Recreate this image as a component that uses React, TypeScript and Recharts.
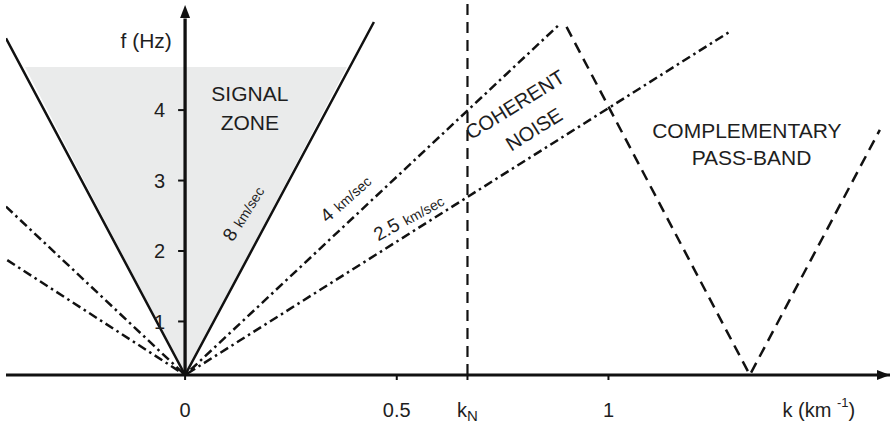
import { ComposedChart, XAxis, YAxis, Line, Area, ReferenceLine, ReferenceDot } from 'recharts';

const FONT = '"Liberation Sans", Arial, Helvetica, sans-serif';
const INK = '#111';
const TEXT = '#1e1e1e';

// axis crossing (origin of all velocity lines) and ranges
const f0 = 0.24;
const kRange = [-0.423, 1.665];
const fRange = [0.24, 5.52];

const kTicks = [0, 0.5, 0.667, 1];
const kTickLabels = ['0', '0.5', 'kN', '1'];
const fTicks = [1, 2, 3, 4];

// shaded signal zone between the 8 km/sec lines, [low, high]
const signalZone = [
  { k: -0.378, f: [4.61, 4.61] },
  { k: 0, f: [f0, 4.61] },
  { k: 0.382, f: [4.61, 4.61] },
];

const vel8 = [
  { k: -0.423, f: 5.02 },
  { k: 0, f: f0 },
  { k: 0.446, f: 5.25 },
];
const vel4 = [
  { k: -0.423, f: 2.63 },
  { k: 0, f: f0 },
  { k: 0.885, f: 5.22 },
];
const vel25 = [
  { k: -0.42, f: 1.87 },
  { k: 0, f: f0 },
  { k: 1.291, f: 5.13 },
];
const aliased = [
  { k: 0.901, f: 5.18 },
  { k: 1.334, f: f0 },
  { k: 1.641, f: 3.72 },
];
const nyquist = [
  { k: 0.667, f: f0 },
  { k: 0.667, f: 5.52 },
];

const zoneLabels = [
  { k: -0.092, f: 4.99, text: 'f (Hz)', angle: 0 },
  { k: 0.153, f: 4.23, text: 'SIGNAL', angle: 0 },
  { k: 0.153, f: 3.82, text: 'ZONE', angle: 0 },
  { k: 0.779, f: 4.08, text: 'COHERENT', angle: -32 },
  { k: 0.824, f: 3.73, text: 'NOISE', angle: -32 },
  { k: 1.327, f: 3.71, text: 'COMPLEMENTARY', angle: 0 },
  { k: 1.338, f: 3.33, text: 'PASS-BAND', angle: 0 },
];

const velLabels = [
  { k: 0.139, f: 2.53, v: '8', angle: -58 },
  { k: 0.38, f: 2.74, v: '4', angle: -42 },
  { k: 0.529, f: 2.47, v: '2.5', angle: -29 },
];

const KTick = (props: any) => {
  const { x, y, payload, index } = props;
  const label = kTickLabels[index] ?? String(payload.value);
  if (label === 'kN') {
    return (
      <text x={x} y={y} textAnchor="middle" fontFamily={FONT} fontSize={20} fill={TEXT}>
        k<tspan fontSize={15} dy={4}>N</tspan>
      </text>
    );
  }
  return (
    <text x={x} y={y} textAnchor="middle" fontFamily={FONT} fontSize={20} fill={TEXT}>
      {label}
    </text>
  );
};

const upArrow = (p: any) => (
  <path d={`M${p.cx},${p.cy} L${p.cx - 5},${p.cy + 13} L${p.cx + 5},${p.cy + 13} Z`} fill={INK} />
);
const rightArrow = (p: any) => (
  <path d={`M${p.cx},${p.cy} L${p.cx - 13},${p.cy - 5} L${p.cx - 13},${p.cy + 5} Z`} fill={INK} />
);

const dashDot = '9 4 2.5 4';
const dashed = '11 7';

export default function App() {
  return (
    <div style={{ position: 'absolute', left: 0, top: 0, background: '#fff' }}>
      <ComposedChart width={892} height={429} margin={{ top: 3, right: 2, bottom: 0, left: 6 }}>
        <XAxis
          type="number"
          dataKey="k"
          domain={kRange}
          allowDataOverflow
          ticks={kTicks}
          interval={0}
          height={54}
          tickSize={5}
          tickMargin={37}
          tick={<KTick />}
          axisLine={{ stroke: INK, strokeWidth: 3 }}
          tickLine={{ stroke: INK, strokeWidth: 2 }}
        />
        <YAxis type="number" domain={fRange} allowDataOverflow hide />

        <Area
          data={signalZone}
          dataKey="f"
          type="linear"
          stroke="none"
          fill="#eaebeb"
          fillOpacity={1}
          isAnimationActive={false}
        />

        <Line data={vel8} dataKey="f" stroke={INK} strokeWidth={2.5} dot={false} isAnimationActive={false} />
        <Line data={vel4} dataKey="f" stroke={INK} strokeWidth={2.5} strokeDasharray={dashDot} dot={false} isAnimationActive={false} />
        <Line data={vel25} dataKey="f" stroke={INK} strokeWidth={2.5} strokeDasharray={dashDot} dot={false} isAnimationActive={false} />
        <Line data={aliased} dataKey="f" stroke={INK} strokeWidth={2.5} strokeDasharray={dashed} dot={false} isAnimationActive={false} />
        <Line data={nyquist} dataKey="f" stroke={INK} strokeWidth={2.2} strokeDasharray={dashed} dot={false} isAnimationActive={false} />

        {/* vertical f axis at k = 0 */}
        <ReferenceLine segment={[{ x: 0, y: f0 }, { x: 0, y: 5.3 }]} stroke={INK} strokeWidth={3.3} ifOverflow="visible" />
        <ReferenceDot x={0} y={5.49} shape={upArrow} ifOverflow="visible" />
        <ReferenceDot x={1.665} y={f0} shape={rightArrow} ifOverflow="visible" />

        {fTicks.map((v) => (
          <ReferenceLine key={`t${v}`} segment={[{ x: -0.0165, y: v }, { x: 0, y: v }]} stroke={INK} strokeWidth={2} />
        ))}
        {fTicks.map((v) => (
          <ReferenceDot
            key={`l${v}`}
            x={-0.047}
            y={v}
            ifOverflow="visible"
            shape={(p: any) => (
              <text x={p.cx} y={p.cy} dy="0.36em" textAnchor="end" fontFamily={FONT} fontSize={20} fill={TEXT}>
                {v}
              </text>
            )}
          />
        ))}

        {zoneLabels.map((l) => (
          <ReferenceDot
            key={l.text}
            x={l.k}
            y={l.f}
            ifOverflow="visible"
            shape={(p: any) => (
              <text
                x={p.cx}
                y={p.cy}
                dy="0.36em"
                textAnchor="middle"
                transform={`rotate(${l.angle} ${p.cx} ${p.cy})`}
                fontFamily={FONT}
                fontSize={l.angle ? 20 : 21}
                fill={TEXT}
              >
                {l.text}
              </text>
            )}
          />
        ))}

        {velLabels.map((l) => (
          <ReferenceDot
            key={l.v}
            x={l.k}
            y={l.f}
            ifOverflow="visible"
            shape={(p: any) => (
              <text
                x={p.cx}
                y={p.cy}
                dy="0.36em"
                textAnchor="middle"
                transform={`rotate(${l.angle} ${p.cx} ${p.cy})`}
                fontFamily={FONT}
                fill={TEXT}
              >
                <tspan fontSize={19}>{l.v}</tspan>
                <tspan fontSize={14} dx={6}>km/sec</tspan>
              </text>
            )}
          />
        ))}

        <ReferenceDot
          x={1.411}
          y={-0.352}
          ifOverflow="visible"
          shape={(p: any) => (
            <text x={p.cx} y={p.cy} textAnchor="start" fontFamily={FONT} fontSize={20} fill={TEXT}>
              k (km <tspan fontSize={13} dy={-10}>-1</tspan>
              <tspan dy={10}>)</tspan>
            </text>
          )}
        />
      </ComposedChart>
    </div>
  );
}
